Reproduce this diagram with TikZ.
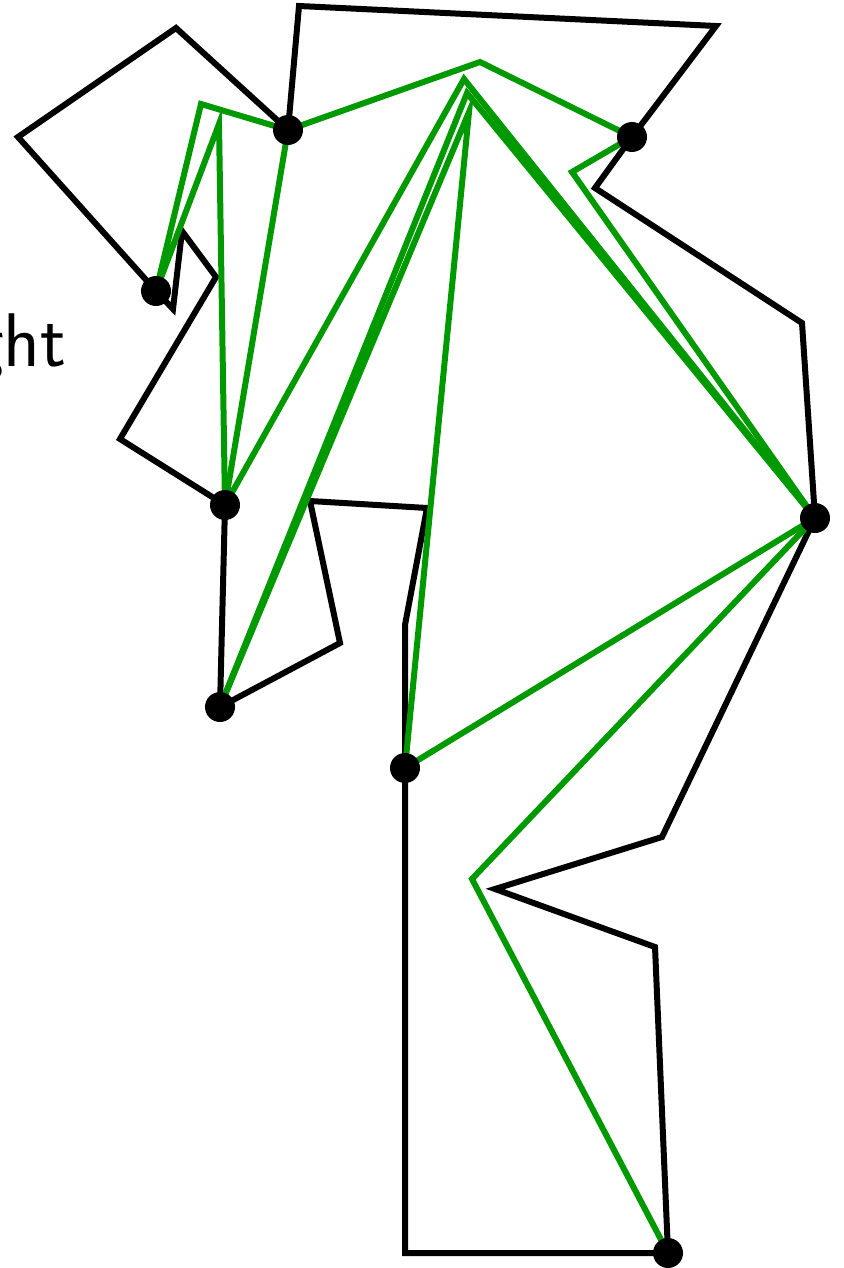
\documentclass[tikz,border=0pt]{standalone}
\usetikzlibrary{positioning}
\definecolor{geogreen}{RGB}{0,153,0}

\begin{document}
\begin{tikzpicture}[x=0.5pt,y=-0.5pt,
    wall/.style={line width=3pt,black},
    geo/.style={line width=3pt,geogreen},
    pin/.style={fill=black}]
  \useasboundingbox (0,0) rectangle (843,1268);
  % Marked points
  \coordinate (p1) at (156,291);
  \coordinate (p2) at (288,130);
  \coordinate (p3) at (632,137);
  \coordinate (p4) at (225,505);
  \coordinate (p5) at (220,707);
  \coordinate (p6) at (405,768);
  \coordinate (p7) at (815,518);
  \coordinate (p8) at (668,1253);
  % Bend points of the green paths
  \coordinate (b1) at (201,104);
  \coordinate (b2) at (219,124);
  \coordinate (b3) at (480,62);
  \coordinate (b4) at (572,172);
  \coordinate (b5) at (464,79);
  \coordinate (b6) at (467,93);
  \coordinate (b7) at (469,112);
  \coordinate (b8) at (472,879);
  % Label, cut by the left edge
  \node[font=\sffamily\fontsize{38}{40}\selectfont,anchor=base east,inner sep=0pt]
        (lbl) at (67,366) {ght};
  % Boundary polygon (black)
  \draw[wall] (p4) -- (p5) -- (340,643) -- (310,501) -- (427,508) -- (405,625)
        -- (p6) -- (405,1253) -- (p8) -- (655,947) -- (495,889) -- (662,837)
        -- (p7) -- (802,323) -- (595,188) -- (p3) -- (716,26) -- (299,6)
        -- (p2) -- (176,28) -- (18,137) -- (p1) -- (173,309) -- (182,231)
        -- (216,277) -- (120,439) -- cycle;
  % Paths (green)
  \draw[geo] (p1) -- (b1) -- (p2);
  \draw[geo] (p2) -- (b3) -- (p3);
  \draw[geo] (p3) -- (b4) -- (p7);
  \draw[geo] (p1) -- (b2) -- (p4);
  \draw[geo] (p2) -- (p4);
  \draw[geo] (p4) -- (b5) -- (p7);
  \draw[geo] (p5) -- (b6) -- (p7);
  \draw[geo] (p5) -- (b7) -- (p6);
  \draw[geo] (p7) -- (p6);
  \draw[geo] (p7) -- (b8) -- (p8);
  % Dots
  \foreach \p in {p1,p2,p3,p4,p5,p6,p7,p8}
    \fill[pin] (\p) circle (7.5pt);
\end{tikzpicture}
\end{document}
